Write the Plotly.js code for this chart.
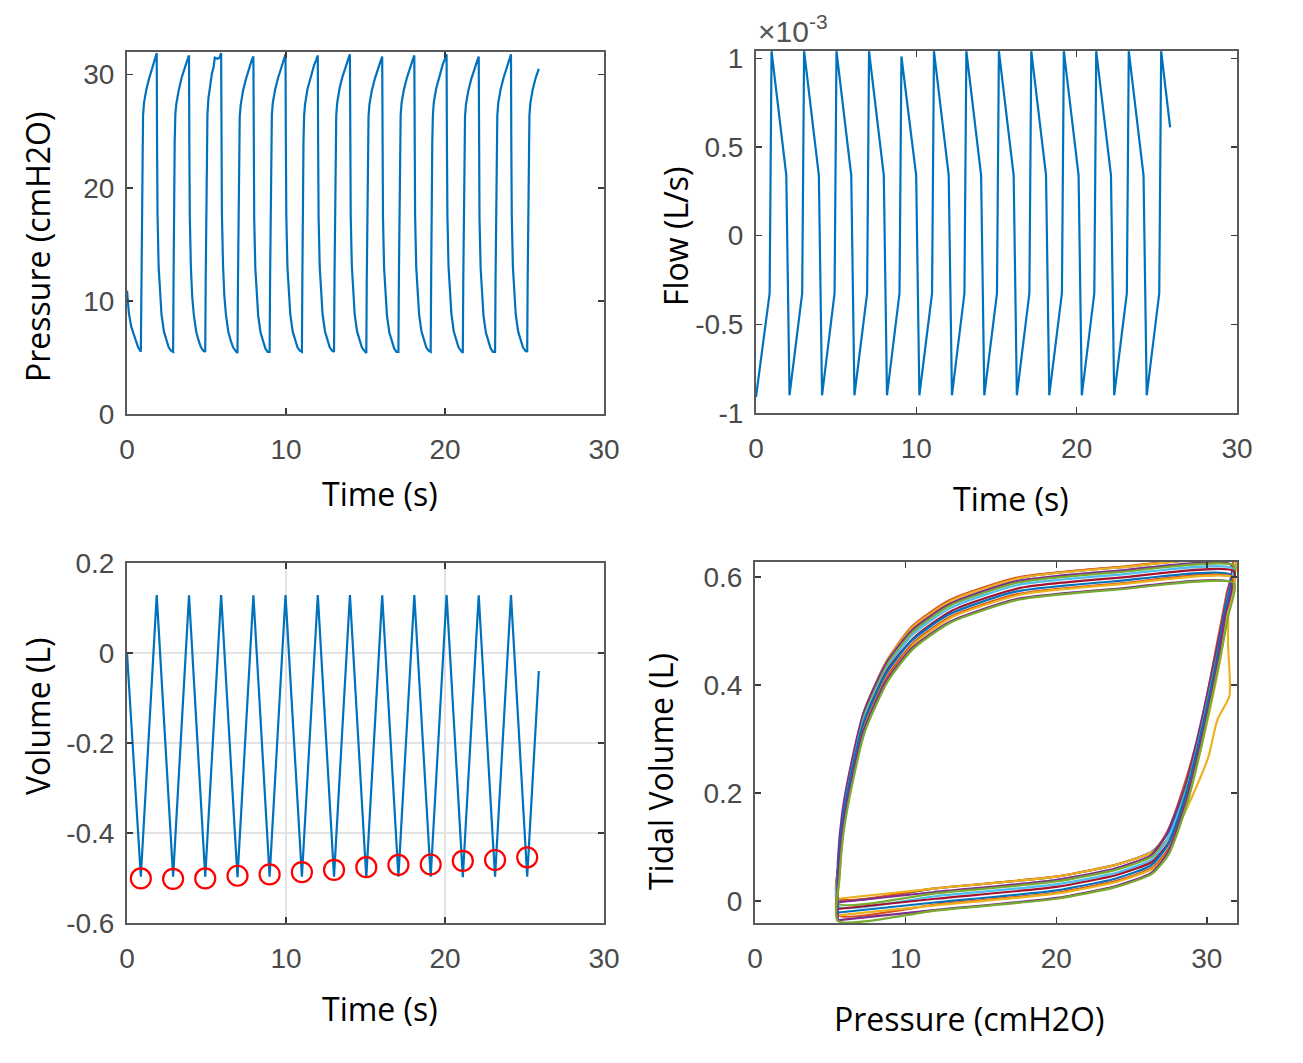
<!DOCTYPE html>
<html>
<head>
<meta charset="utf-8">
<script src="https://cdn.plot.ly/plotly-3.0.1.min.js"></script>
<style>
html,body{margin:0;padding:0;background:#fff;}
#chart{width:1303px;height:1063px;}
</style>
</head>
<body>
<div id="chart"></div>
<script>
// ---- Time base shared by pressure and volume (s) ----
const time = [
  0, 0.12, 0.27, 0.47, 0.7,
  0.87, 0.9, 0.935, 0.97, 1.01, 1.07, 1.22, 1.4, 1.63, 1.77, 1.87, 1.89, 1.92, 1.99, 2.07, 2.17, 2.32, 2.47, 2.62, 2.77,
  2.9, 2.93, 2.965, 3.0, 3.04, 3.1, 3.25, 3.43, 3.66, 3.8, 3.9, 3.92, 3.95, 4.02, 4.1, 4.2, 4.35, 4.5, 4.65, 4.8,
  4.92, 4.95, 4.985, 5.02, 5.06, 5.12, 5.22, 5.34, 5.45, 5.52, 5.68, 5.82, 5.92, 5.94, 5.97, 6.04, 6.12, 6.22, 6.37, 6.52, 6.67, 6.82,
  6.95, 6.98, 7.015, 7.05, 7.09, 7.15, 7.3, 7.48, 7.71, 7.85, 7.95, 7.97, 8.0, 8.07, 8.15, 8.25, 8.4, 8.55, 8.7, 8.85,
  8.97, 9.0, 9.035, 9.07, 9.11, 9.17, 9.32, 9.5, 9.73, 9.87, 9.97, 9.99, 10.02, 10.09, 10.17, 10.27, 10.42, 10.57, 10.72, 10.87,
  11.0, 11.03, 11.065, 11.1, 11.14, 11.2, 11.35, 11.53, 11.76, 11.9, 12.0, 12.02, 12.05, 12.12, 12.2, 12.3, 12.45, 12.6, 12.75, 12.9,
  13.02, 13.05, 13.085, 13.12, 13.16, 13.22, 13.37, 13.55, 13.78, 13.92, 14.02, 14.04, 14.07, 14.14, 14.22, 14.32, 14.47, 14.62, 14.77, 14.92,
  15.05, 15.08, 15.115, 15.15, 15.19, 15.25, 15.4, 15.58, 15.81, 15.95, 16.05, 16.07, 16.1, 16.17, 16.25, 16.35, 16.5, 16.65, 16.8, 16.95,
  17.07, 17.1, 17.135, 17.17, 17.21, 17.27, 17.42, 17.6, 17.83, 17.97, 18.07, 18.09, 18.12, 18.19, 18.27, 18.37, 18.52, 18.67, 18.82, 18.97,
  19.1, 19.13, 19.165, 19.2, 19.24, 19.3, 19.45, 19.63, 19.86, 20.0, 20.1, 20.12, 20.15, 20.22, 20.3, 20.4, 20.55, 20.7, 20.85, 21.0,
  21.12, 21.15, 21.185, 21.22, 21.26, 21.32, 21.47, 21.65, 21.88, 22.02, 22.12, 22.14, 22.17, 22.24, 22.32, 22.42, 22.57, 22.72, 22.87, 23.02,
  23.15, 23.18, 23.215, 23.25, 23.29, 23.35, 23.5, 23.68, 23.91, 24.05, 24.15, 24.17, 24.2, 24.27, 24.35, 24.45, 24.6, 24.75, 24.9, 25.05,
  25.17, 25.2, 25.235, 25.27, 25.31, 25.37, 25.52, 25.7, 25.9
];

// ---- Airway pressure (cmH2O) ----
const pressure = [
  10.9, 8.9, 7.7, 6.8, 5.9,
  5.5, 12, 20, 24, 26.4, 27.5, 28.7, 29.7, 30.8, 31.4, 31.9, 24.2, 17.6, 13.0, 10.5, 8.8, 7.3, 6.5, 5.9, 5.6,
  5.5, 12.2, 20.2, 24.1, 26.5, 27.4, 28.6, 29.7, 30.7, 31.3, 31.7, 23.9, 17.4, 12.9, 10.4, 8.8, 7.3, 6.5, 5.9, 5.6,
  5.5, 12, 20, 24, 26.5, 27.9, 29.0, 30.1, 30.7, 31.5, 31.4, 31.5, 31.9, 24.3, 17.7, 13.1, 10.5, 8.8, 7.3, 6.5, 5.9, 5.6,
  5.4, 11.8, 19.8, 23.9, 26.3, 27.3, 28.6, 29.6, 30.7, 31.3, 31.6, 23.8, 17.3, 12.9, 10.4, 8.7, 7.2, 6.4, 5.8, 5.5,
  5.5, 12, 20, 24, 26.4, 27.5, 28.7, 29.7, 30.8, 31.4, 31.8, 24.1, 17.5, 13.0, 10.5, 8.8, 7.3, 6.5, 5.9, 5.6,
  5.5, 12.1, 20.1, 24.1, 26.4, 27.4, 28.7, 29.7, 30.8, 31.3, 31.7, 24.0, 17.4, 13.0, 10.5, 8.8, 7.3, 6.5, 5.9, 5.6,
  5.5, 12, 20, 24, 26.4, 27.5, 28.8, 29.8, 30.9, 31.4, 31.8, 24.2, 17.6, 13.1, 10.6, 8.8, 7.3, 6.5, 5.9, 5.6,
  5.4, 11.9, 19.9, 23.9, 26.3, 27.4, 28.6, 29.6, 30.7, 31.2, 31.6, 23.8, 17.3, 12.9, 10.4, 8.7, 7.2, 6.4, 5.8, 5.5,
  5.5, 12, 20, 24, 26.4, 27.5, 28.7, 29.7, 30.8, 31.3, 31.7, 24.1, 17.5, 13.0, 10.5, 8.8, 7.3, 6.5, 5.9, 5.6,
  5.5, 12.1, 20.1, 24.1, 26.5, 27.6, 28.8, 29.8, 30.9, 31.4, 31.8, 24.3, 17.7, 13.1, 10.6, 8.9, 7.3, 6.5, 5.9, 5.6,
  5.4, 11.9, 19.9, 23.9, 26.3, 27.4, 28.6, 29.6, 30.7, 31.2, 31.6, 23.8, 17.3, 12.9, 10.4, 8.7, 7.2, 6.4, 5.8, 5.5,
  5.5, 12, 20, 24, 26.4, 27.5, 28.7, 29.7, 30.8, 31.4, 31.8, 24.1, 17.5, 13.0, 10.5, 8.8, 7.3, 6.5, 5.9, 5.6,
  5.5, 12, 20, 24, 26.4, 27.5, 28.7, 29.7, 30.5
];

// ---- Volume (L) ----
const volume = [
  0.0, -0.069, -0.154, -0.269, -0.400,
  -0.497, -0.478, -0.456, -0.434, -0.409, -0.372, -0.278, -0.165, -0.021, 0.066, 0.129, 0.117, 0.098, 0.056, 0.007, -0.054, -0.146, -0.238, -0.329, -0.421,
  -0.497, -0.478, -0.456, -0.434, -0.409, -0.372, -0.278, -0.165, -0.021, 0.066, 0.128, 0.116, 0.097, 0.055, 0.006, -0.055, -0.147, -0.239, -0.330, -0.422,
  -0.497, -0.478, -0.456, -0.434, -0.409, -0.372, -0.309, -0.234, -0.165, -0.121, -0.021, 0.066, 0.129, 0.117, 0.098, 0.056, 0.007, -0.054, -0.146, -0.238, -0.329, -0.421,
  -0.498, -0.479, -0.457, -0.435, -0.410, -0.373, -0.279, -0.166, -0.022, 0.065, 0.128, 0.116, 0.097, 0.055, 0.006, -0.055, -0.147, -0.239, -0.330, -0.422,
  -0.497, -0.478, -0.456, -0.434, -0.409, -0.372, -0.278, -0.165, -0.021, 0.066, 0.129, 0.117, 0.098, 0.056, 0.007, -0.054, -0.146, -0.238, -0.329, -0.421,
  -0.497, -0.478, -0.456, -0.434, -0.409, -0.372, -0.278, -0.165, -0.021, 0.066, 0.129, 0.117, 0.098, 0.056, 0.007, -0.054, -0.146, -0.238, -0.329, -0.421,
  -0.497, -0.478, -0.456, -0.434, -0.409, -0.372, -0.278, -0.165, -0.021, 0.066, 0.129, 0.117, 0.098, 0.056, 0.007, -0.054, -0.146, -0.238, -0.329, -0.421,
  -0.498, -0.479, -0.457, -0.435, -0.410, -0.373, -0.279, -0.166, -0.022, 0.065, 0.128, 0.116, 0.097, 0.055, 0.006, -0.055, -0.147, -0.239, -0.330, -0.422,
  -0.497, -0.478, -0.456, -0.434, -0.409, -0.372, -0.278, -0.165, -0.021, 0.066, 0.129, 0.117, 0.098, 0.056, 0.007, -0.054, -0.146, -0.238, -0.329, -0.421,
  -0.497, -0.478, -0.456, -0.434, -0.409, -0.372, -0.278, -0.165, -0.021, 0.066, 0.129, 0.117, 0.098, 0.056, 0.007, -0.054, -0.146, -0.238, -0.329, -0.421,
  -0.498, -0.479, -0.457, -0.435, -0.410, -0.373, -0.279, -0.166, -0.022, 0.065, 0.128, 0.116, 0.097, 0.055, 0.006, -0.055, -0.147, -0.239, -0.330, -0.422,
  -0.497, -0.478, -0.456, -0.434, -0.409, -0.372, -0.278, -0.165, -0.021, 0.066, 0.129, 0.117, 0.098, 0.056, 0.007, -0.054, -0.146, -0.238, -0.329, -0.421,
  -0.497, -0.478, -0.456, -0.434, -0.409, -0.372, -0.278, -0.165, -0.040
];

// ---- Flow (in units of 1e-3 L/s) ----
const flowTime = [
  0, 0.85, 0.97, 1.89, 2.09, 2.88, 3.0, 3.92, 4.12, 4.9, 5.02, 5.94, 6.14, 6.93,
  7.05, 7.97, 8.17, 8.95, 9.07, 9.99, 10.19, 10.98, 11.1, 12.02, 12.22, 13.0,
  13.12, 14.04, 14.24, 15.03, 15.15, 16.07, 16.27, 17.05, 17.17, 18.09, 18.29, 19.08,
  19.2, 20.12, 20.32, 21.1, 21.22, 22.14, 22.34, 23.13, 23.25, 24.17, 24.37, 25.15,
  25.27, 25.83
];
const flowE3 = [
  -0.91, -0.325, 1.04, 0.34, -0.90, -0.325, 1.04, 0.34, -0.90, -0.325, 1.04, 0.34, -0.90, -0.325,
  1.04, 0.34, -0.90, -0.325, 1.01, 0.34, -0.90, -0.325, 1.04, 0.34, -0.90, -0.325,
  1.04, 0.34, -0.90, -0.325, 1.04, 0.34, -0.90, -0.325, 1.04, 0.34, -0.90, -0.325,
  1.04, 0.34, -0.90, -0.325, 1.04, 0.34, -0.90, -0.325, 1.04, 0.34, -0.90, -0.325,
  1.04, 0.61
];

// ---- End-expiratory markers (red circles) ----
const markerTime = [0.87, 2.9, 4.92, 6.95, 8.97, 11.0, 13.02, 15.05, 17.07, 19.1, 21.12, 23.15, 25.17];
const markerVolume = [-0.501, -0.502, -0.501, -0.495, -0.492, -0.487, -0.482, -0.476, -0.471, -0.470, -0.462, -0.460, -0.454];

// ---- Tick values / labels ----
const timeTicks = [0, 10, 20, 30];
const pressureTicks = [0, 10, 20, 30];
const flowTicks = [-1, -0.5, 0, 0.5, 1];
const flowTickText = ['-1', '-0.5', '0', '0.5', '1'];
const volumeTicks = [-0.6, -0.4, -0.2, 0, 0.2];
const volumeTickText = ['-0.6', '-0.4', '-0.2', '0', '0.2'];
const tidalTicks = [0, 0.2, 0.4, 0.6];
const tidalTickText = ['0', '0.2', '0.4', '0.6'];

const loopColors = ['#0072BD', '#D95319', '#EDB120', '#7E2F8E', '#77AC30', '#4DBEEE', '#A2142F'];
const blue = '#0072BD';

// ---- Traces ----
const traces = [];
traces.push({x: time, y: pressure, type: 'scatter', mode: 'lines', line: {color: blue, width: 2.2}, xaxis: 'x', yaxis: 'y', showlegend: false});
traces.push({x: flowTime, y: flowE3, type: 'scatter', mode: 'lines', line: {color: blue, width: 2.2}, xaxis: 'x2', yaxis: 'y2', showlegend: false});
traces.push({x: time, y: volume, type: 'scatter', mode: 'lines', line: {color: blue, width: 2.2}, xaxis: 'x3', yaxis: 'y3', showlegend: false});
traces.push({x: markerTime, y: markerVolume, type: 'scatter', mode: 'markers',
  marker: {symbol: 'circle-open', size: 20, color: '#FF0000', line: {width: 2.2, color: '#FF0000'}},
  xaxis: 'x3', yaxis: 'y3', showlegend: false});

// Pressure-volume loops: one per complete breath, volume relative to its end-expiratory marker
for (let k = 0; k < markerTime.length - 1; k++) {
  const px = [], py = [];
  for (let i = 0; i < time.length; i++) {
    if (time[i] >= markerTime[k] - 1e-6 && time[i] <= markerTime[k + 1] + 1e-6) {
      px.push(pressure[i]);
      py.push(volume[i] - markerVolume[k]);
    }
  }
  traces.push({x: px, y: py, type: 'scatter', mode: 'lines',
    line: {color: loopColors[k % loopColors.length], width: 2.2, shape: 'spline', smoothing: 0.6},
    xaxis: 'x4', yaxis: 'y4', showlegend: false});
}

const W = 1303, H = 1063;
const fx = (a, b) => [a / W, b / W];
const fy = (top, bottom) => [1 - bottom / H, 1 - top / H];

const tickFont = {family: 'Liberation Sans, Arial, sans-serif', size: 28, color: '#4a4a4a'};
const titleFont = {family: 'Open Sans, Noto Sans, sans-serif', size: 32, color: '#000'};

function axis(extra) {
  return Object.assign({
    showline: true, linecolor: '#5a5a5a', linewidth: 2, mirror: 'ticks',
    ticks: 'inside', ticklen: 6, tickwidth: 1.5, tickcolor: '#3a3a3a',
    showgrid: false, zeroline: false, automargin: false,
    tickfont: tickFont, fixedrange: true
  }, extra);
}

function title(text, xpx, ypx, angle) {
  return {xref: 'paper', yref: 'paper', x: xpx / W, y: 1 - ypx / H,
    xanchor: 'center', yanchor: 'middle', text: text, textangle: angle || 0,
    showarrow: false, font: titleFont};
}

const layout = {
  width: W, height: H,
  margin: {l: 0, r: 0, t: 0, b: 0},
  paper_bgcolor: '#fff', plot_bgcolor: '#fff',
  showlegend: false,
  xaxis: axis({domain: fx(127, 604), anchor: 'y', range: [0, 30], tickvals: timeTicks, ticklabelstandoff: 9}),
  yaxis: axis({domain: fy(52, 414), anchor: 'x', range: [0, 32], tickvals: pressureTicks, ticklabelstandoff: 5}),
  xaxis2: axis({domain: fx(756, 1237), anchor: 'y2', range: [0, 30], tickvals: timeTicks, ticklabelstandoff: 9}),
  yaxis2: axis({domain: fy(51, 413), anchor: 'x2', range: [-1, 1.041], tickvals: flowTicks, ticktext: flowTickText, ticklabelstandoff: 5}),
  xaxis3: axis({domain: fx(127, 604), anchor: 'y3', range: [0, 30], tickvals: timeTicks, ticklabelstandoff: 9,
    showgrid: true, gridcolor: '#e3e3e3', gridwidth: 1.5}),
  yaxis3: axis({domain: fy(563, 923), anchor: 'x3', range: [-0.6, 0.2], tickvals: volumeTicks, ticktext: volumeTickText, ticklabelstandoff: 5,
    showgrid: true, gridcolor: '#e3e3e3', gridwidth: 1.5}),
  xaxis4: axis({domain: fx(755, 1237), anchor: 'y4', range: [0, 32], tickvals: timeTicks, ticklabelstandoff: 9}),
  yaxis4: axis({domain: fy(562, 923), anchor: 'x4', range: [-0.041, 0.628], tickvals: tidalTicks, ticktext: tidalTickText, ticklabelstandoff: 5}),
  annotations: [
    title('Pressure (cmH2O)', 37, 247, -90),
    title('Time (s)', 380, 493),
    title('Flow (L/s)', 676, 236, -90),
    title('Time (s)', 1011, 498),
    title('Volume (L)', 37, 716, -90),
    title('Time (s)', 380, 1008),
    title('Tidal Volume (L)', 660, 772, -90),
    title('Pressure (cmH2O)', 969, 1018),
    {xref: 'paper', yref: 'paper', x: 756 / W, y: 1 - 50 / H, xanchor: 'left', yanchor: 'bottom',
     text: '×10<sup>-3</sup>', showarrow: false,
     font: {family: 'Liberation Sans, Arial, sans-serif', size: 30, color: '#555'}}
  ]
};

Plotly.newPlot('chart', traces, layout, {displayModeBar: false, staticPlot: true});
</script>
</body>
</html>
